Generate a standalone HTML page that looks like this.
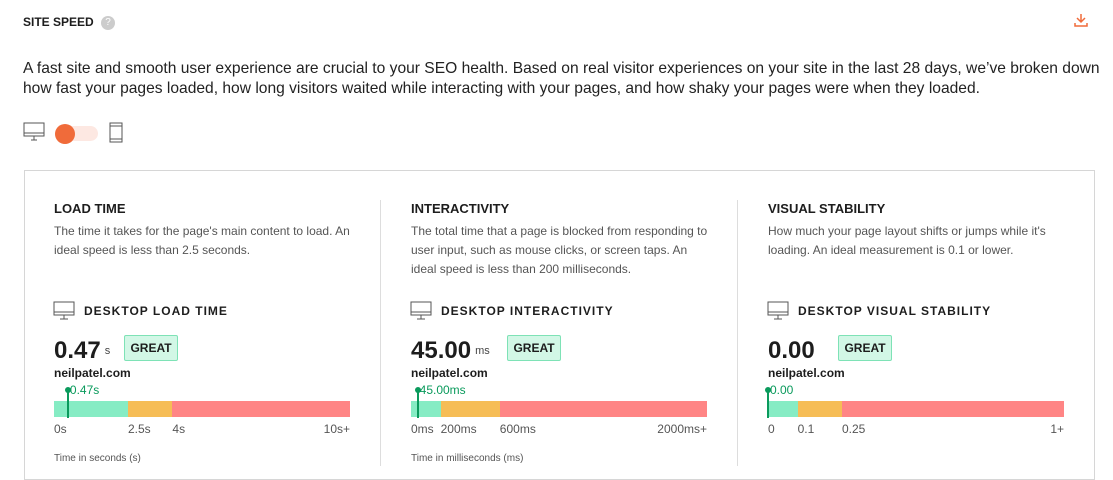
<!DOCTYPE html>
<html><head><meta charset="utf-8"><style>
*{margin:0;padding:0;box-sizing:border-box}
body{width:1113px;height:466px;overflow:hidden;background:#fff;font-family:"Liberation Sans",sans-serif;color:#1d1d1d;position:relative}
.abs{position:absolute}
.h{font-weight:bold;font-size:13px;letter-spacing:0}
.desc{font-size:12px;color:#555;line-height:19px;width:300px}
.sub{font-size:12px;font-weight:bold;letter-spacing:1px}
.big{font-size:24px;font-weight:bold;white-space:nowrap}
.unit{font-size:11px;color:#444;font-weight:normal;margin-left:4px;vertical-align:4px}
.great{border:1px solid #7ee2b6;background:#d2f7e6;font-size:12px;font-weight:bold;width:54px;height:26px;line-height:24px;text-align:center;border-radius:2px}
.site{font-size:12px;font-weight:bold}
.tick{font-size:12px;color:#555}
.note{font-size:10px;color:#555}
</style></head><body>
<div class="abs" style="left:23px;top:15px;font-size:12px;font-weight:bold">SITE SPEED</div>
<div class="abs" style="left:101px;top:16px;width:14px;height:14px;border-radius:50%;background:#ccc;color:#fff;font-size:10px;text-align:center;line-height:14px">?</div>
<svg class="abs" style="left:1073px;top:12px" width="16" height="16"><path d="M8 2v8M4 6l4 4 4-4M2 11v3h12v-3" stroke="#f06b3a" stroke-width="1.5" fill="none"/></svg>
<div class="abs" style="left:23px;top:59px;width:1090px;font-size:15.6px;line-height:20px;color:#222">A fast site and smooth user experience are crucial to your SEO health. Based on real visitor experiences on your site in the last 28 days, we’ve broken down how fast your pages loaded, how long visitors waited while interacting with your pages, and how shaky your pages were when they loaded.</div>
<svg class="abs" style="left:23px;top:122px" width="22" height="20"><rect x="1" y="1" width="20" height="13" fill="none" stroke="#555"/><line x1="1" y1="11" x2="21" y2="11" stroke="#555"/><path d="M8 18h6M11 14v4" stroke="#555"/></svg>
<div class="abs" style="left:55px;top:126px;width:43px;height:15px;border-radius:8px;background:#fde8e2"></div>
<div class="abs" style="left:55px;top:124px;width:20px;height:20px;border-radius:50%;background:#f06b3a"></div>
<svg class="abs" style="left:109px;top:122px" width="14" height="21"><rect x="1" y="1" width="12" height="19" fill="none" stroke="#555"/><line x1="1" y1="4" x2="13" y2="4" stroke="#555"/><line x1="1" y1="17" x2="13" y2="17" stroke="#555"/></svg>
<div class="abs" style="left:24px;top:170px;width:1071px;height:310px;border:1px solid #d6d6d6"></div>
<div class="abs" style="left:380px;top:200px;width:1px;height:266px;background:#ddd"></div>
<div class="abs" style="left:737px;top:200px;width:1px;height:266px;background:#ddd"></div>
<div id="cols"></div>
<script>
const titles=["LOAD TIME","INTERACTIVITY","VISUAL STABILITY"];
const descs=["The time it takes for the page's main content to load. An ideal speed is less than 2.5 seconds.","The total time that a page is blocked from responding to user input, such as mouse clicks, or screen taps. An ideal speed is less than 200 milliseconds.","How much your page layout shifts or jumps while it's loading. An ideal measurement is 0.1 or lower."];
const subs=["DESKTOP LOAD TIME","DESKTOP INTERACTIVITY","DESKTOP VISUAL STABILITY"];
const values=[0.47,45,0];
const valueLabels=["0.47","45.00","0.00"];
const units=["s","ms",""];
const markerLabels=["0.47s","45.00ms","0.00"];
const goodLimits=[2.5,200,0.1];
const poorLimits=[4,600,0.25];
const maxVals=[10,2000,1];
const tickVals=[[0,2.5,4,10],[0,200,600,2000],[0,0.1,0.25,1]];
const tickLabels=[["0s","2.5s","4s","10s+"],["0ms","200ms","600ms","2000ms+"],["0","0.1","0.25","1+"]];
const notes=["Time in seconds (s)","Time in milliseconds (ms)",""];
const root=document.getElementById('cols');
const lefts=[54,411,768];
function mk(cls,style,html,name){const d=document.createElement('div');d.className='abs '+cls;d.setAttribute('style',style);d.innerHTML=html;


root.appendChild(d);return d;}
for(let i=0;i<3;i++){
 const L=lefts[i],W=296;const x=v=>L+v/maxVals[i]*W;
 mk('h',`left:${L}px;top:201px`,titles[i],'metric-title');
 mk('desc',`left:${L}px;top:222px`,descs[i],'metric-description');
 mk('',`left:${L-1}px;top:301px`,'<svg width="22" height="20"><rect x="1" y="1" width="20" height="13" fill="none" stroke="#555"/><line x1="1" y1="11" x2="21" y2="11" stroke="#555"/><path d="M7 18h8M11 14v4" stroke="#555"/></svg>','desktop-icon');
 mk('sub',`left:${L+30}px;top:304px`,subs[i],'metric-subtitle');
 mk('big',`left:${L}px;top:337px`,valueLabels[i]+(units[i]?`<span class="unit">${units[i]}</span>`:''),'metric-value');
 mk('great',`left:${L+(i==1?96:70)}px;top:335px`,'GREAT','rating-badge');
 mk('site',`left:${L}px;top:366px`,'neilpatel.com','site-name');
 mk('',`left:${L}px;top:401px;width:${x(goodLimits[i])-L}px;height:16px;background:#86ecc4`,'','bar-good');
 mk('',`left:${x(goodLimits[i])}px;top:401px;width:${x(poorLimits[i])-x(goodLimits[i])}px;height:16px;background:#f6bd56`,'','bar-needs-improvement');
 mk('',`left:${x(poorLimits[i])}px;top:401px;width:${x(maxVals[i])-x(poorLimits[i])}px;height:16px;background:#ff8585`,'','bar-poor');
 const mx=x(values[i]);
 mk('',`left:${mx-1}px;top:390px;width:2px;height:28px;background:#0a9a5c`,'','marker-line');
 mk('',`left:${mx-3}px;top:387px;width:6px;height:6px;border-radius:50%;background:#0a9a5c`,'','marker-dot');
 mk('',`left:${mx+2}px;top:383px;font-size:12px;color:#0a9a5c`,markerLabels[i],'marker-label');
 tickVals[i].forEach((t,j)=>{const tx=x(t);const last=j==tickVals[i].length-1;
  mk('tick',`left:${last?tx-60:tx}px;top:422px;${last?'width:60px;text-align:right':''}`,tickLabels[i][j],'tick-label');});
 if(notes[i])mk('note',`left:${L}px;top:453px`,notes[i],'axis-note');
}
</script>
</body></html>
